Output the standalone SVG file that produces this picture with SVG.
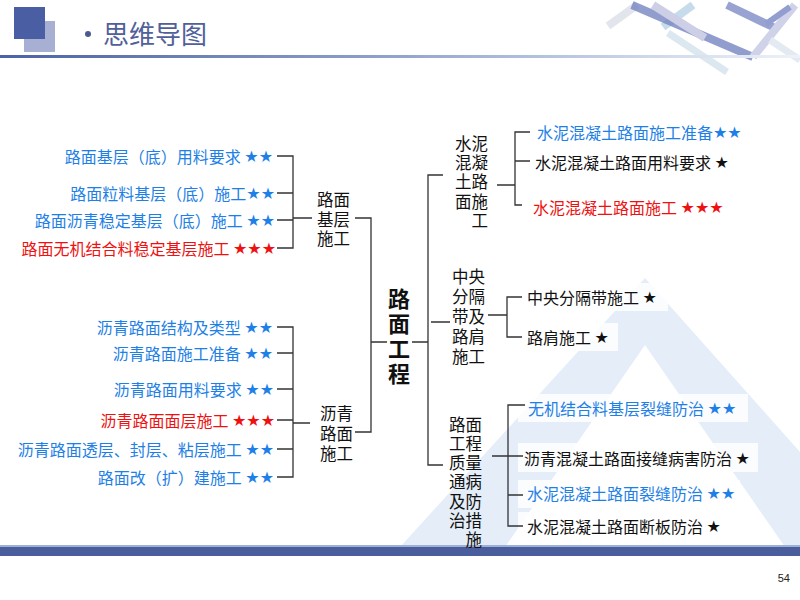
<svg xmlns="http://www.w3.org/2000/svg" width="800" height="600" viewBox="0 0 800 600">
<defs>
<linearGradient id="hdr" x1="0" y1="0" x2="1" y2="0">
<stop offset="0" stop-color="#4a63a5"/>
<stop offset="0.45" stop-color="#8a9cc8"/>
<stop offset="0.85" stop-color="#d4deee"/>
<stop offset="1" stop-color="#eef2f8"/>
</linearGradient>
<style>
.t{font-family:"Noto Sans CJK SC","Noto Sans",sans-serif;font-size:16px;dominant-baseline:central}
.n{font-family:"Liberation Sans","Noto Sans CJK SC",sans-serif;font-size:16.5px;fill:#111;dominant-baseline:central}
.c{font-family:"Liberation Sans","Noto Sans CJK SC",sans-serif;font-size:22px;font-weight:bold;fill:#111;dominant-baseline:central}
.s{font-family:"DejaVu Sans",sans-serif}
.b{fill:#1e7fe6}
.r{fill:#ee1111}
.k{fill:#111}
.ln{fill:none;stroke:#333;stroke-width:1.3}
</style>
</defs>
<rect width="800" height="600" fill="#fff"/>
<!-- background mountain -->
<path d="M400 547 L645 278 L800 452 L800 547 Z M505 547 L645 345 L785 547 Z" fill="#e4edf8" fill-rule="evenodd"/>
<!-- top right decoration -->
<g fill="none" stroke-linecap="butt">
<path d="M608 26 L637 5" stroke="#e2e5ec" stroke-width="8"/>
<path d="M663 27 L693 5" stroke="#c6dcea" stroke-width="8"/>
<path d="M632 5 L753 57" stroke="#7584c0" stroke-width="8" opacity="0.8"/>
<path d="M653 5 L705 38" stroke="#cdcfe6" stroke-width="8"/>
<path d="M668 33 L727 72" stroke="#dce8f0" stroke-width="7"/>
<path d="M727 5 L775 28" stroke="#7e8cc6" stroke-width="8" opacity="0.8"/>
<path d="M753 57 L795 5" stroke="#cfd2e8" stroke-width="8"/>
<path d="M766 24 L790 7" stroke="#939ed0" stroke-width="6"/>
<path d="M770 40 L800 60" stroke="#e4eaf2" stroke-width="7"/>
</g>
<!-- header -->
<g id="header">
<rect x="24" y="21" width="31" height="31" fill="#a7b0d3"/>
<rect x="14" y="7" width="31" height="32" fill="#4a5ea3"/>
<circle cx="88" cy="34" r="3" fill="#4a5a90"/>
<text x="103" y="44" font-family="'Noto Sans CJK SC',sans-serif" font-size="26" fill="#50609a">思维导图</text>
<rect x="0" y="55" width="800" height="3" fill="url(#hdr)"/>
</g>
<!-- bottom bar -->
<rect x="0" y="545" width="800" height="2" fill="#9fb0d6"/>
<rect x="0" y="547" width="800" height="9" fill="#4a5e9e"/>
<text x="790" y="582" text-anchor="end" font-family="'Liberation Sans',sans-serif" font-size="11" fill="#222">54</text>
<!-- white boxes behind right texts -->
<g fill="#fff" opacity="0.85">
<rect x="518" y="394" width="230" height="28"/>
<rect x="518" y="443" width="240" height="29"/>
<rect x="518" y="480" width="222" height="28"/>
<rect x="518" y="512" width="212" height="28"/>
<rect x="518" y="283" width="150" height="28"/>
<rect x="518" y="323" width="100" height="28"/>
</g>
<!-- connectors -->
<g id="connectors" class="ln">
<path d="M277 156 H293 V248 H277 M277 193 H293 M277 220 H293 M293 218 H312"/>
<path d="M277 327 H293 V477 H277 M277 353 H293 M277 389 H293 M277 420 H293 M277 449 H293 M293 423 H310"/>
<path d="M355 218 H371 V432 H355 M371 342 H387"/>
<path d="M412 342 H428 M443 175 H428 V465 H443 M431 322 H450"/>
<path d="M497 185 H515 M530 132 H515 V205 H522 M515 161 H530"/>
<path d="M488 315 H507 M522 297 H507 V337 H522"/>
<path d="M492 456 H523 M525 405 H508 V526 H523 M508 495 H523"/>
</g>
<!-- center node -->
<g id="center">
<text class="c" text-anchor="middle"><tspan x="399" y="299">路</tspan><tspan x="399" y="324">面</tspan><tspan x="399" y="349">工</tspan><tspan x="399" y="374">程</tspan></text>
</g>
<!-- left branch 1 -->
<g id="node-jiceng">
<text class="n"><tspan x="317" y="199.5">路面</tspan><tspan x="317" y="219.5">基层</tspan><tspan x="317" y="238.5">施工</tspan></text>
</g>
<g id="leaves-jiceng">
<text class="t b" x="273" y="156" text-anchor="end">路面基层（底）用料要求 <tspan class="s">★★</tspan></text>
<text class="t b" x="275" y="193" text-anchor="end">路面粒料基层（底）施工<tspan class="s">★★</tspan></text>
<text class="t b" x="275" y="220" text-anchor="end">路面沥青稳定基层（底）施工 <tspan class="s">★★</tspan></text>
<text class="t r" x="276" y="248" text-anchor="end">路面无机结合料稳定基层施工 <tspan class="s">★★★</tspan></text>
</g>
<!-- left branch 2 -->
<g id="node-liqing">
<text class="n"><tspan x="320" y="413.5">沥青</tspan><tspan x="320" y="433.5">路面</tspan><tspan x="320" y="453.5">施工</tspan></text>
</g>
<g id="leaves-liqing">
<text class="t b" x="273" y="327" text-anchor="end">沥青路面结构及类型 <tspan class="s">★★</tspan></text>
<text class="t b" x="273" y="353" text-anchor="end">沥青路面施工准备 <tspan class="s">★★</tspan></text>
<text class="t b" x="274" y="389" text-anchor="end">沥青路面用料要求 <tspan class="s">★★</tspan></text>
<text class="t r" x="275" y="420" text-anchor="end">沥青路面面层施工 <tspan class="s">★★★</tspan></text>
<text class="t b" x="274" y="449" text-anchor="end">沥青路面透层、封层、粘层施工 <tspan class="s">★★</tspan></text>
<text class="t b" x="274" y="477" text-anchor="end">路面改（扩）建施工 <tspan class="s">★★</tspan></text>
</g>
<!-- right branch A -->
<g id="node-shuini">
<text class="n" text-anchor="end"><tspan x="488" y="143.5">水泥</tspan><tspan x="488" y="162.5">混凝</tspan><tspan x="488" y="181.5">土路</tspan><tspan x="488" y="201.5">面施</tspan><tspan x="488" y="220.5">工</tspan></text>
</g>
<g id="leaves-shuini">
<text class="t b" x="537" y="132">水泥混凝土路面施工准备<tspan class="s">★★</tspan></text>
<text class="t k" x="535" y="162">水泥混凝土路面用料要求 <tspan class="s">★</tspan></text>
<text class="t r" x="533" y="207">水泥混凝土路面施工 <tspan class="s">★★★</tspan></text>
</g>
<!-- right branch B -->
<g id="node-zhongyang">
<text class="n"><tspan x="452" y="276.5">中央</tspan><tspan x="452" y="296.5">分隔</tspan><tspan x="452" y="316.5">带及</tspan><tspan x="452" y="336.5">路肩</tspan><tspan x="452" y="356.5">施工</tspan></text>
</g>
<g id="leaves-zhongyang">
<text class="t k" x="527" y="297">中央分隔带施工 <tspan class="s">★</tspan></text>
<text class="t k" x="527" y="337">路肩施工 <tspan class="s">★</tspan></text>
</g>
<!-- right branch C -->
<g id="node-zhiliang">
<text class="n" text-anchor="end"><tspan x="482" y="424.5">路面</tspan><tspan x="482" y="443.5">工程</tspan><tspan x="482" y="462.5">质量</tspan><tspan x="482" y="481.5">通病</tspan><tspan x="482" y="501.5">及防</tspan><tspan x="482" y="520.5">治措</tspan><tspan x="482" y="539.5">施</tspan></text>
</g>
<g id="leaves-zhiliang">
<text class="t b" x="528" y="408">无机结合料基层裂缝防治 <tspan class="s">★★</tspan></text>
<text class="t k" x="524" y="458">沥青混凝土路面接缝病害防治 <tspan class="s">★</tspan></text>
<text class="t b" x="527" y="493">水泥混凝土路面裂缝防治 <tspan class="s">★★</tspan></text>
<text class="t k" x="527" y="526">水泥混凝土路面断板防治 <tspan class="s">★</tspan></text>
</g>
</svg>
